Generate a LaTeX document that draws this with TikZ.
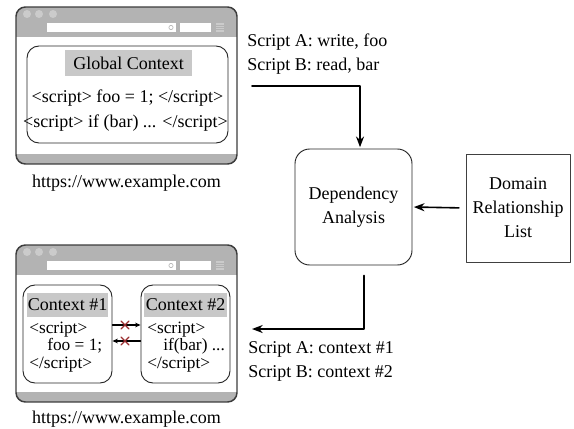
\documentclass[tikz,border=0pt]{standalone}
\usepackage{fontspec}
\setmainfont{Liberation Serif}
\usetikzlibrary{arrows.meta,positioning}

\definecolor{barGray}{HTML}{B3B3B3}
\definecolor{dotGray}{HTML}{CBCBCB}
\definecolor{labelGray}{HTML}{C8C8C8}
\definecolor{frameGray}{HTML}{3C3C3C}
\definecolor{crossRed}{HTML}{9B2D30}

\tikzset{
  winframe/.style={draw=frameGray,line width=1.1pt,rounded corners=7pt},
  ctxbox/.style={draw=black!85,line width=0.7pt,rounded corners=9pt},
  ctxlabel/.style={fill=labelGray,inner sep=0pt},
  flow/.style={line width=1.2pt,-{Stealth[length=8pt,width=6pt,inset=2.5pt]}},
  small flow/.style={line width=0.8pt,-{Stealth[length=4pt,width=3.5pt,inset=1.2pt]}},
  plaintext/.style={inner sep=0pt,align=center},
}

% browser window, top at y=7
\newcommand{\drawbrowser}{%
  \fill[white,rounded corners=7pt] (16,7) rectangle (237,164);
  \begin{scope}
    \clip[rounded corners=7pt] (16,7) rectangle (237,164);
    \fill[barGray] (16,7) rectangle (237,37);
    \fill[barGray] (16,154) rectangle (237,164);
  \end{scope}
  \foreach \x in {27,39,53}
    \fill[dotGray] (\x,14) circle (3pt);
  \fill[white] (47,23) rectangle (176,32);
  \draw[barGray,line width=0.5pt] (171,27.5) circle (1.6pt);
  \fill[white] (180,23) rectangle (211,32);
  \fill[dotGray] (216,23) rectangle (224,32);
  \foreach \y in {25.5,27.5,29.5}
    \draw[barGray,line width=0.4pt] (216,\y) -- (224,\y);
  \draw[winframe] (16,7) rectangle (237,164);
}

\begin{document}
\begin{tikzpicture}[x=0.75pt,y=-0.75pt,line cap=round,line join=round,
    font=\fontsize{13.5}{18}\selectfont]
  \useasboundingbox (0,0) rectangle (574,428);

  % top browser: one global context
  \drawbrowser
  \node[ctxbox,minimum width=150.75pt,minimum height=72.75pt] (global) at (127.5,94.5) {};
  \node[ctxlabel,minimum width=95.25pt,minimum height=19.5pt] (globalLabel) at (128.5,63) {Global Context};
  \node[plaintext] (scriptFoo) at (127.5,98) {<script> foo = 1; </script>};
  \node[plaintext] (scriptBar) at (125.5,123) {<script> if (bar) ... </script>};
  \node[plaintext] (urlTop) at (126.5,183) {https://www.example.com};

  % bottom browser: two contexts
  \begin{scope}[shift={(0,238)}]
    \drawbrowser
  \end{scope}
  \node[ctxbox,minimum width=66.75pt,minimum height=73.5pt] (ctxA) at (67.5,334) {};
  \node[ctxbox,minimum width=66.75pt,minimum height=73.5pt] (ctxB) at (185.5,334) {};
  \node[ctxlabel,minimum width=60.75pt,minimum height=18pt] (ctxALabel) at (67.5,305) {Context \#1};
  \node[ctxlabel,minimum width=62.25pt,minimum height=18pt] (ctxBLabel) at (185.5,305) {Context \#2};
  \node[inner sep=0pt,align=left,anchor=west,font=\fontsize{13}{13.1}\selectfont] (codeA) at (29,347)
    {<script>\\\hspace*{13.5pt}foo = 1;\\</script>};
  \node[inner sep=0pt,align=left,anchor=west,font=\fontsize{13}{13.1}\selectfont] (codeB) at (147,347)
    {<script>\\\hspace*{12pt}if(bar) ...\\</script>};
  \draw[small flow] (ctxA.east |- 0,325) -- (ctxB.west |- 0,325);
  \draw[small flow] (ctxB.west |- 0,341) -- (ctxA.east |- 0,341);
  \foreach \y in {325,341}
    \draw[crossRed,line width=1pt] (121,\y-4) -- (129,\y+4) (121,\y+4) -- (129,\y-4);
  \node[plaintext] (urlBottom) at (126.5,419) {https://www.example.com};

  % analysis
  \node[draw=black!85,line width=0.7pt,rounded corners=11pt,minimum width=87.75pt,minimum height=87pt,align=center] (dep) at (353.5,207) {Dependency\\Analysis};
  \node[draw=black!75,line width=0.6pt,minimum width=78pt,minimum height=81pt,align=center] (dom) at (518,208) {Domain\\Relationship\\List};
  \node[inner sep=0pt,align=left,anchor=west] (inLabel) at (247,54) {Script A: write, foo\\Script B: read, bar};
  \node[inner sep=0pt,align=left,anchor=west] (outLabel) at (248,361.5) {Script A: context \#1\\Script B: context \#2};
  \coordinate (inStart) at (252,86);
  \coordinate (outEnd) at (252,329);
  \draw[flow] (inStart) -| ([xshift=4.9pt,yshift=1pt]dep.north);
  \draw[flow] ([xshift=7.9pt,yshift=-7.5pt]dep.south) |- (outEnd);
  \draw[flow,shorten <=5pt,shorten >=1pt] (dom.west) -- (dep.east);
\end{tikzpicture}
\end{document}
